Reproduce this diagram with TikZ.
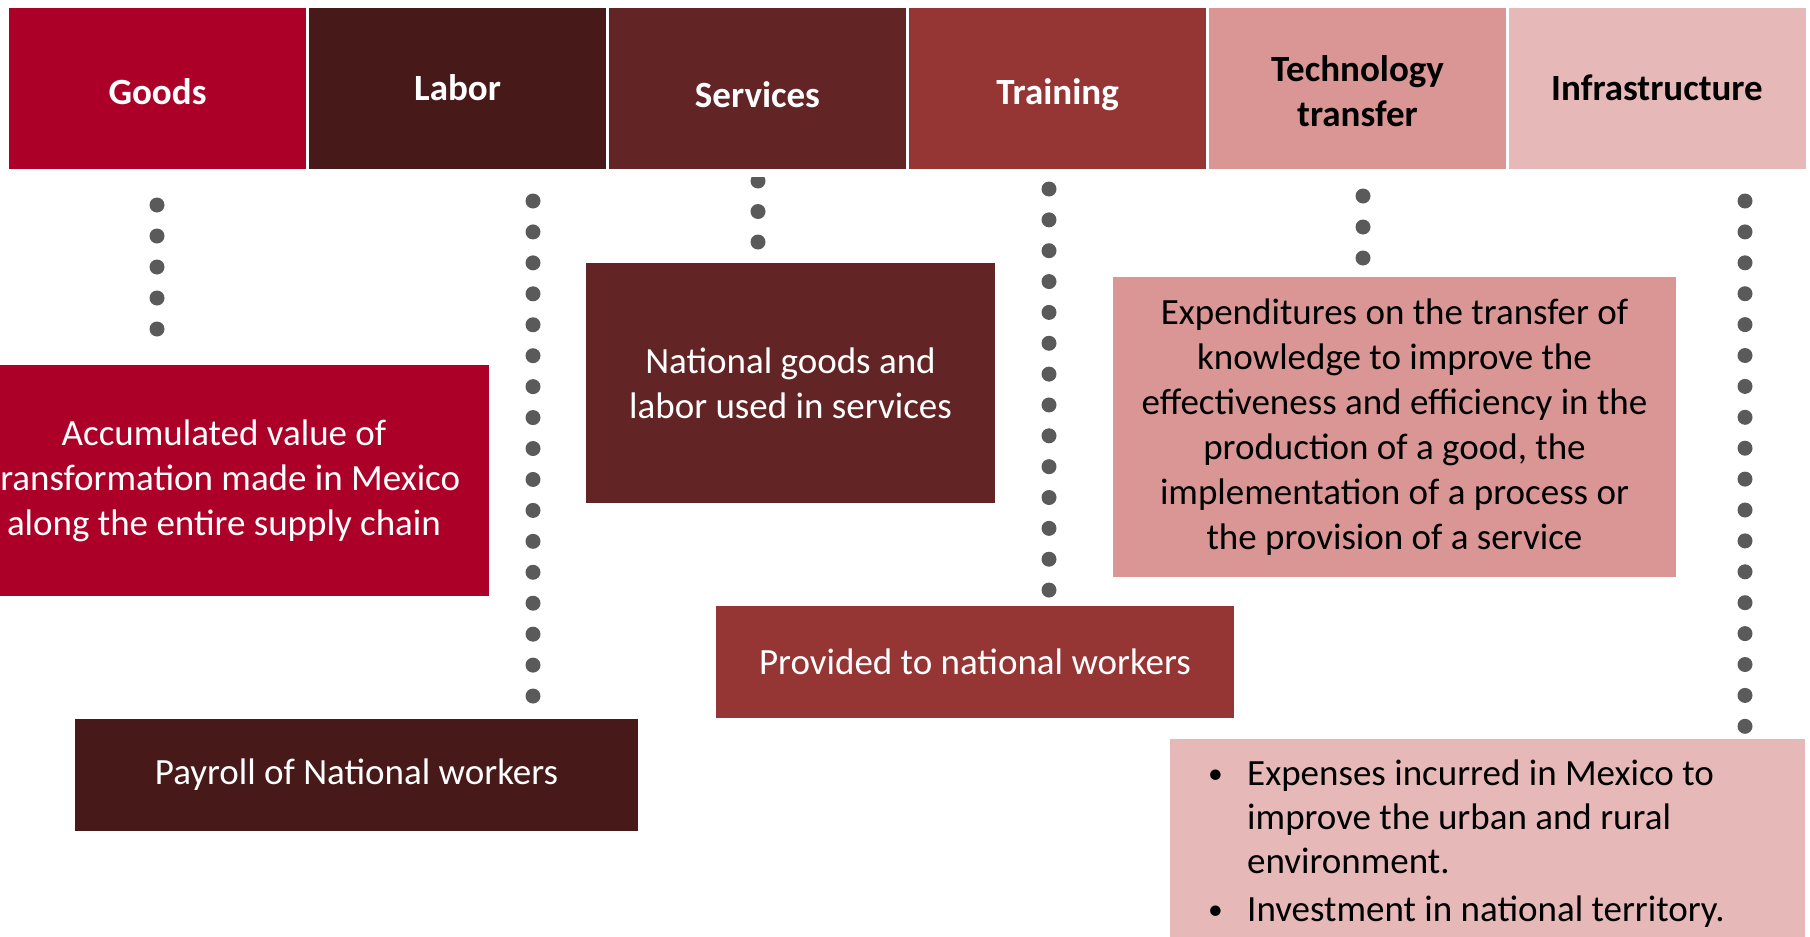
\documentclass[tikz,border=0pt]{standalone}
\usepackage{fontspec}
\usepackage{graphicx}
\setmainfont{Carlito}
\definecolor{goodsred}{RGB}{173,0,41}
\definecolor{laborbrown}{RGB}{72,25,25}
\definecolor{servbrown}{RGB}{99,36,37}
\definecolor{trainred}{RGB}{149,54,53}
\definecolor{techpink}{RGB}{217,150,148}
\definecolor{infrapink}{RGB}{230,185,184}
\definecolor{dotgray}{RGB}{90,90,90}
\newcommand{\itembul}{\raisebox{1.5pt}{\scalebox{0.8}{\textbullet}}}
\tikzset{
  head/.style={minimum width=297pt, minimum height=161pt, inner sep=0pt,
    font=\bfseries\fontsize{37}{45}\selectfont, text height=31pt, text depth=0pt, align=center},
  descbox/.style={inner sep=0pt, font=\fontsize{37}{45}\selectfont, align=center},
}
\begin{document}
\begin{tikzpicture}[x=1pt, y=-1pt]
\useasboundingbox (0,0) rectangle (1810,937);
\clip (0,0) rectangle (1810,937);
% dotted guides
\foreach \k in {0,...,4} \fill[dotgray] (157,205+31*\k) circle (7.5pt);
\foreach \k in {0,...,16} \fill[dotgray] (533,201+30.94*\k) circle (7.5pt);
\begin{scope}
  \clip (700,177) rectangle (820,300);
  \foreach \k in {0,1,2} \fill[dotgray] (758,181+30.5*\k) circle (7.5pt);
\end{scope}
\foreach \k in {0,...,13} \fill[dotgray] (1049,189+30.85*\k) circle (7.5pt);
\foreach \k in {0,1,2} \fill[dotgray] (1363,196+31*\k) circle (7.5pt);
\foreach \k in {0,...,17} \fill[dotgray] (1745,201+30.9*\k) circle (7.5pt);
% headers
\node[head, fill=goodsred, text=white] (goods) at (157.5,88.5) {Goods};
\node[head, fill=laborbrown, text=white, text height=23pt] (labor) at (457.5,88.5) {Labor};
\node[head, fill=servbrown, text=white, text height=37pt] (services) at (757.5,88.5) {Services};
\node[head, fill=trainred, text=white] (training) at (1057.5,88.5) {Training};
\node[head, fill=techpink, text=black, text height=75pt] (techtr) at (1357.5,88.5) {Technology\\transfer};
\node[head, fill=infrapink, text=black, text height=23pt] (infra) at (1657,88.5) {Infrastructure};
% descriptions
\node[descbox, fill=goodsred, text=white, minimum width=530pt, minimum height=231pt] (gdesc) at (224,480.5)
  {Accumulated value of\\transformation made in Mexico\\along the entire supply chain};
\node[descbox, fill=laborbrown, text=white, minimum width=563pt, minimum height=112pt] (ldesc) at (356.5,775)
  {Payroll of National workers};
\node[descbox, fill=servbrown, text=white, minimum width=409pt, minimum height=240pt] (sdesc) at (790.5,383)
  {National goods and\\labor used in services};
\node[descbox, fill=trainred, text=white, minimum width=518pt, minimum height=112pt] (tdesc) at (975,662)
  {Provided to national workers};
\node[descbox, fill=techpink, text=black, minimum width=563pt, minimum height=300pt] (xdesc) at (1394.5,427)
  {Expenditures on the transfer of\\knowledge to improve the\\effectiveness and efficiency in the\\production of a good, the\\implementation of a process or\\the provision of a service};
\node[anchor=north west, fill=infrapink, text=black, inner xsep=38pt, inner ysep=15pt,
  font=\fontsize{37}{44}\selectfont] (idesc) at (1170,739)
  {\begin{tabular}{@{}p{39pt}@{}p{520pt}@{}}
   \itembul & Expenses incurred in Mexico to\\
    & improve the urban and rural\\
    & environment.\\[4pt]
   \itembul & Investment in national territory.
   \end{tabular}};
\end{tikzpicture}
\end{document}
